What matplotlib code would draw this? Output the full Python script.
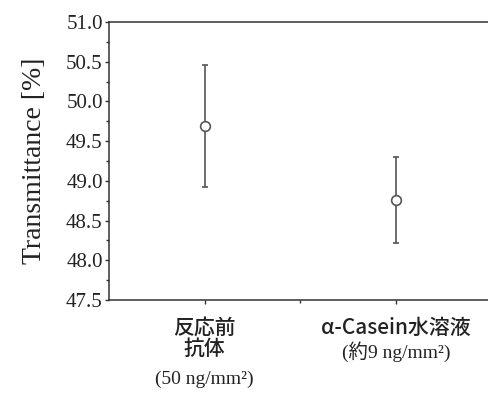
import matplotlib.pyplot as plt
from matplotlib.ticker import MultipleLocator, FixedLocator
from matplotlib.transforms import blended_transform_factory

# --- data ---
positions = [1, 2]
means = [49.69, 48.76]
errors = [0.77, 0.54]
name_lines = [["反応前", "抗体"], ["α-Casein水溶液"]]
amount_lines = ["(50 ng/mm²)", "(約9 ng/mm²)"]

serif = ['Liberation Serif', 'Noto Sans CJK JP']
sans = ['Noto Sans CJK JP', 'DejaVu Sans']
plt.rcParams['font.family'] = serif

fig = plt.figure(figsize=(4.89, 3.94), dpi=100)
ax = fig.add_axes([109 / 489, 94 / 394, 383 / 489, 278 / 394])

gray = '#555555'
ax.errorbar(positions, means, yerr=errors, fmt='o', color=gray, ecolor=gray,
            elinewidth=1.2, capsize=2, capthick=1.2,
            markersize=7, markerfacecolor='white', markeredgecolor=gray,
            markeredgewidth=1.2)

ax.set_xlim(0.5, 2.5)
ax.set_ylim(47.5, 51.0)
ax.yaxis.set_major_locator(MultipleLocator(0.5))
ax.yaxis.set_minor_locator(MultipleLocator(0.25))
ax.xaxis.set_major_locator(FixedLocator(positions))
ax.xaxis.set_minor_locator(FixedLocator([1.5]))
ax.set_xticklabels([])
ax.yaxis.set_major_formatter(plt.FormatStrFormatter('%.1f'))

ax.tick_params(axis='both', which='major', direction='out', length=3, width=1,
               color='#333333', labelsize=15, labelcolor='#222222', pad=1.5)
ax.tick_params(axis='both', which='minor', direction='out', length=2, width=1,
               color='#333333')
ax.spines['right'].set_visible(False)
for s in ['left', 'bottom', 'top']:
    ax.spines[s].set_color('#333333')
    ax.spines[s].set_linewidth(1.1)

ax.set_ylabel('Transmittance [%]', fontsize=20, color='#222222', labelpad=14)

# category labels: Japanese names in gothic, amounts in serif
trans = blended_transform_factory(ax.transData, ax.transAxes)
name_offsets = [[-20, -35], [-20]]
amount_offsets = [-57, -37]
for x, names, amount, offs, aoff in zip(positions, name_lines, amount_lines,
                                        name_offsets, amount_offsets):
    for line, off in zip(names, offs):
        ax.annotate(line, (x, 0), xycoords=trans, xytext=(0, off),
                    textcoords='offset points', ha='center', va='center',
                    fontsize=15, family=sans, fontweight='medium',
                    color='#222222')
    ax.annotate(amount, (x, 0), xycoords=trans, xytext=(0, aoff),
                textcoords='offset points', ha='center', va='center',
                fontsize=14, family=serif, color='#222222')

fig.savefig('out.png', dpi=100)
